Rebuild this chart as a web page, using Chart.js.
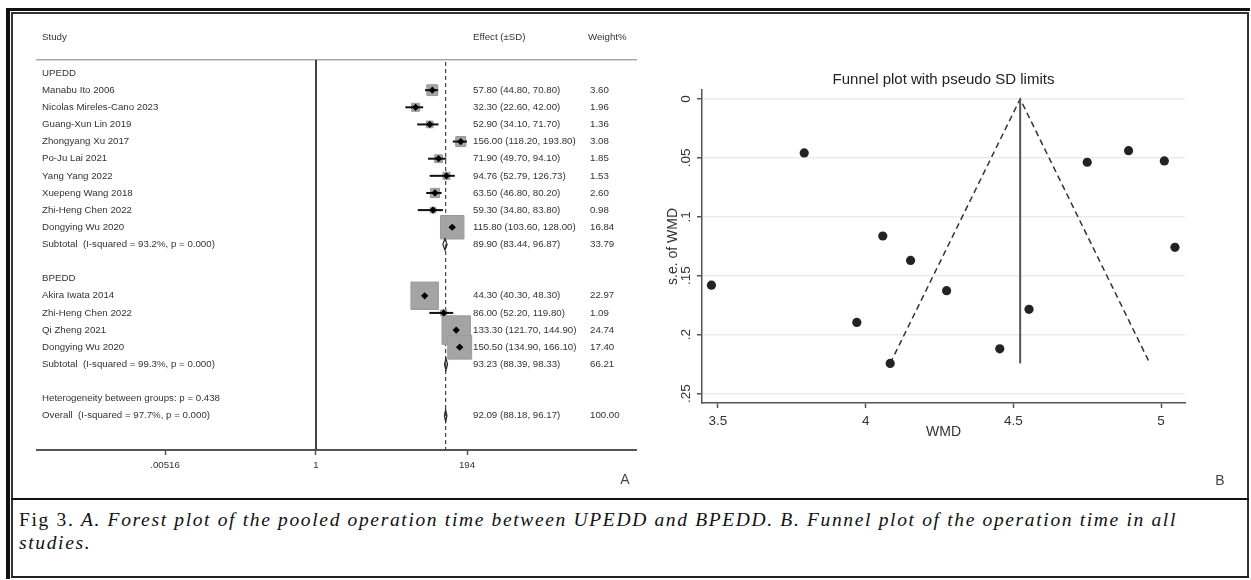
<!DOCTYPE html>
<html>
<head>
<meta charset="utf-8">
<script src="https://cdn.jsdelivr.net/npm/chart.js@4.4.1/dist/chart.umd.min.js"></script>
<style>
html,body{margin:0;padding:0;background:#fff;}
body{width:1251px;height:580px;position:relative;overflow:hidden;font-family:"Liberation Sans",Arial,sans-serif;}
.ln{position:absolute;background:#111;}
.wrap{position:absolute;}
.plab{position:absolute;font:14px "Liberation Sans",Arial,sans-serif;color:#444;transform:translate(-50%,-50%);}
#cap{position:absolute;left:19px;top:508px;font-family:"Liberation Serif","Times New Roman",serif;font-size:19.5px;line-height:23px;color:#111;}
#cap .cl{white-space:nowrap;}
</style>
</head>
<body>
<!-- frame lines -->
<div class="ln" style="left:6px;top:8px;width:1244px;height:3px;background:#111"></div>
<div class="ln" style="left:6px;top:8px;width:4px;height:571px;background:#111"></div>
<div class="ln" style="left:11px;top:12px;width:1238px;height:1.5px;background:#333"></div>
<div class="ln" style="left:11px;top:12px;width:1.5px;height:566px;background:#333"></div>
<div class="ln" style="left:1247px;top:12px;width:2px;height:566px;background:#333"></div>
<div class="ln" style="left:11px;top:576px;width:1238px;height:2px;background:#222"></div>
<div class="ln" style="left:11px;top:498px;width:1238px;height:2px;background:#111"></div>

<div class="wrap" style="left:14px;top:14px;width:626px;height:484px;"><canvas id="forest" width="626" height="484"></canvas></div>
<div class="wrap" style="left:645px;top:14px;width:600px;height:484px;"><canvas id="funnel" width="600" height="484"></canvas></div>

<div class="plab" style="left:625px;top:479px;">A</div>
<div class="plab" style="left:1220px;top:480px;">B</div>

<div id="cap">
  <div class="cl" id="cl1">Fig 3. <i>A. Forest plot of the pooled operation time between UPEDD and BPEDD. B. Funnel plot of the operation time in all</i></div>
  <div class="cl" id="cl2"><i>studies.</i></div>
</div>

<script>
// ---------------- Forest plot data ----------------
const rowLabels = [
  "UPEDD",
  "Manabu Ito 2006",
  "Nicolas Mireles-Cano 2023",
  "Guang-Xun Lin 2019",
  "Zhongyang Xu 2017",
  "Po-Ju Lai 2021",
  "Yang Yang 2022",
  "Xuepeng Wang 2018",
  "Zhi-Heng Chen 2022",
  "Dongying Wu 2020",
  "Subtotal  (I-squared = 93.2%, p = 0.000)",
  "",
  "BPEDD",
  "Akira Iwata 2014",
  "Zhi-Heng Chen 2022",
  "Qi Zheng 2021",
  "Dongying Wu 2020",
  "Subtotal  (I-squared = 99.3%, p = 0.000)",
  "",
  "Heterogeneity between groups: p = 0.438",
  "Overall  (I-squared = 97.7%, p = 0.000)"
];
const rowType = ["group","study","study","study","study","study","study","study","study","study","pooled","blank",
                 "group","study","study","study","study","pooled","blank","note","pooled"];
const rowEffect = [null,57.80,32.30,52.90,156.00,71.90,94.76,63.50,59.30,115.80,89.90,null,
                   null,44.30,86.00,133.30,150.50,93.23,null,null,92.09];
const rowLow    = [null,44.80,22.60,34.10,118.20,49.70,52.79,46.80,34.80,103.60,83.44,null,
                   null,40.30,52.20,121.70,134.90,88.39,null,null,88.18];
const rowHigh   = [null,70.80,42.00,71.70,193.80,94.10,126.73,80.20,83.80,128.00,96.87,null,
                   null,48.30,119.80,144.90,166.10,98.33,null,null,96.17];
const rowWeight = [null,3.60,1.96,1.36,3.08,1.85,1.53,2.60,0.98,16.84,33.79,null,
                   null,22.97,1.09,24.74,17.40,66.21,null,null,100.00];
const headerLabels = ["Study","Effect (\u00B1SD)","Weight%"];
const forestTicks = [0.00516, 1, 194];
const forestTickLabels = [".00516", "1", "194"];
const overallRow = 20;

// ---------------- Funnel plot data ----------------
const funnelWMD = [4.058, 3.478, 3.970, 5.047, 4.274, 4.553, 4.152, 4.083, 4.750, 3.792, 4.454, 4.890, 5.011];
const funnelSE  = [0.1163, 0.1580, 0.1896, 0.1259, 0.1627, 0.1785, 0.1370, 0.2244, 0.0537, 0.0458, 0.2120, 0.0439, 0.0526];
const funnelCenter = 4.523;
const funnelSEMax = 0.2244;
const funnelLower = 4.083;
const funnelUpper = 4.962;
const funnelXTicks = [3.5, 4, 4.5, 5];
const funnelXTickLabels = ["3.5", "4", "4.5", "5"];
const funnelYTicks = [0, 0.05, 0.1, 0.15, 0.2, 0.25];
const funnelYTickLabels = ["0", ".05", ".1", ".15", ".2", ".25"];

// ---------------- Common ----------------
const FAM = "'Liberation Sans', Arial, Helvetica, sans-serif";
Chart.defaults.font.family = FAM;
Chart.defaults.animation = false;
Chart.defaults.events = [];
const noPad = s => { s.paddingLeft = 0; s.paddingRight = 0; s.paddingTop = 0; s.paddingBottom = 0; };

// ---------------- Build forest datasets ----------------
const fd = [];
const studyIdx = rowType.map((t,i)=>t==="study"?i:-1).filter(i=>i>=0);
const pooledIdx = rowType.map((t,i)=>t==="pooled"?i:-1).filter(i=>i>=0);

// markers (top)
fd.push({
  data: studyIdx.map(i=>({x: rowEffect[i], y: i})),
  pointStyle: 'rectRot', pointRadius: 3.6, backgroundColor: '#000', borderColor: '#000', borderWidth: 0,
  showLine: false, order: 0
});
// CI lines
studyIdx.forEach(i=>{
  fd.push({
    data: [{x: rowLow[i], y: i}, {x: rowHigh[i], y: i}],
    showLine: true, borderColor: '#111', borderWidth: 2, pointRadius: 0, order: 1
  });
});
// pooled diamonds
const dh = 0.33;
pooledIdx.forEach(i=>{
  fd.push({
    data: [{x: rowLow[i], y: i}, {x: rowEffect[i], y: i - dh}, {x: rowHigh[i], y: i},
           {x: rowEffect[i], y: i + dh}, {x: rowLow[i], y: i}],
    showLine: true, borderColor: '#2a2a2a', borderWidth: 1.3, pointRadius: 0, fill: false,
    backgroundColor: 'rgba(0,0,0,0)', order: 1
  });
});
// weight squares
fd.push({
  data: studyIdx.map(i=>({x: rowEffect[i], y: i})),
  pointStyle: 'rect', pointRadius: studyIdx.map(i=>Math.sqrt(rowWeight[i]) * 4.05),
  backgroundColor: '#a4a4a4', borderColor: '#9a9a9a', borderWidth: 1, showLine: false, order: 2
});
// null line at 1
fd.push({
  data: [{x: 1, y: -0.76}, {x: 1, y: 22}],
  showLine: true, borderColor: '#444', borderWidth: 2, pointRadius: 0, order: 3
});
// overall dashed line
fd.push({
  data: [{x: rowEffect[overallRow], y: -0.64}, {x: rowEffect[overallRow], y: 22}],
  showLine: true, borderColor: '#444', borderWidth: 1.2, borderDash: [4, 3], pointRadius: 0, order: 3
});

const fmt = v => v.toFixed(2);
const forestText = {
  id: 'forestText',
  afterDraw(chart) {
    const ctx = chart.ctx, ys = chart.scales.y;
    const colX = [28, 459, 576];
    ctx.save();
    ctx.font = "9.7px " + FAM;
    ctx.fillStyle = '#333';
    ctx.textBaseline = 'middle';
    ctx.textAlign = 'left';
    const hy = ys.getPixelForValue(-2.1);
    ctx.fillText(headerLabels[0], colX[0], hy);
    ctx.fillText(headerLabels[1], colX[1], hy);
    ctx.fillText(headerLabels[2], colX[2] - 2, hy);
    rowLabels.forEach((lab, i) => {
      const y = ys.getPixelForValue(i);
      if (lab) ctx.fillText(lab, colX[0], y);
      if (rowEffect[i] != null) {
        ctx.fillText(fmt(rowEffect[i]) + " (" + fmt(rowLow[i]) + ", " + fmt(rowHigh[i]) + ")", colX[1], y);
        ctx.fillText(fmt(rowWeight[i]), colX[2], y);
      }
    });
    ctx.restore();
  }
};

new Chart(document.getElementById('forest'), {
  type: 'scatter',
  data: { datasets: fd },
  options: {
    responsive: false,
    devicePixelRatio: 1,
    layout: { autoPadding: false, padding: { left: 23, right: 4, top: 46, bottom: 0 } },
    plugins: { legend: { display: false }, tooltip: { enabled: false } },
    scales: {
      x: {
        type: 'logarithmic', position: 'bottom', min: 5.93e-5, max: 7.05e4,
        afterBuildTicks: s => { s.ticks = forestTicks.map(v => ({ value: v })); },
        ticks: { callback: (v, i) => forestTickLabels[i], font: { size: 9.7 }, color: '#333',
                 padding: 5, maxRotation: 0, minRotation: 0, autoSkip: false },
        grid: { drawOnChartArea: false, drawTicks: true, tickLength: 5, tickColor: '#555', tickWidth: 1.5 },
        border: { display: true, color: '#555', width: 2 },
        afterFit: s => { s.height = 48; noPad(s); }
      },
      x2: {
        type: 'linear', position: 'top', min: 0, max: 1,
        ticks: { display: false },
        grid: { display: false, drawTicks: false },
        border: { display: true, color: '#a8a8a8', width: 1.5 },
        afterFit: s => { s.height = 0; noPad(s); }
      },
      y: { type: 'linear', reverse: true, min: -0.76, max: 22, display: false }
    }
  },
  plugins: [forestText]
});

// ---------------- Funnel chart ----------------
new Chart(document.getElementById('funnel'), {
  type: 'scatter',
  data: {
    datasets: [
      {
        data: funnelWMD.map((x, i) => ({ x: x, y: funnelSE[i] })),
        pointStyle: 'circle', pointRadius: 4.6, backgroundColor: '#232323', borderWidth: 0, order: 0
      },
      {
        data: [{ x: funnelCenter, y: 0 }, { x: funnelCenter, y: funnelSEMax }],
        showLine: true, borderColor: '#555', borderWidth: 2, pointRadius: 0, order: 1
      },
      {
        data: [{ x: funnelLower, y: funnelSEMax }, { x: funnelCenter, y: 0 }, { x: funnelUpper, y: funnelSEMax }],
        showLine: true, borderColor: '#333', borderWidth: 1.5, borderDash: [6, 4], pointRadius: 0, order: 1
      }
    ]
  },
  options: {
    responsive: false,
    devicePixelRatio: 1,
    layout: { autoPadding: false, padding: { left: 0, right: 60, top: 0, bottom: 0 } },
    plugins: {
      legend: { display: false }, tooltip: { enabled: false },
      title: { display: true, text: 'Funnel plot with pseudo SD limits', fullSize: false,
               font: { size: 15, weight: 'normal' }, color: '#222', padding: { top: 57, bottom: 1 } }
    },
    scales: {
      x: {
        type: 'linear', min: 3.446, max: 5.081,
        afterBuildTicks: s => { s.ticks = funnelXTicks.map(v => ({ value: v })); },
        ticks: { callback: (v, i) => funnelXTickLabels[i], font: { size: 13.5 }, color: '#333',
                 padding: 5, maxRotation: 0, minRotation: 0, autoSkip: false },
        grid: { drawOnChartArea: false, tickLength: 5, tickColor: '#555', tickWidth: 1.5 },
        border: { color: '#555', width: 1.5 },
        title: { display: true, text: 'WMD', font: { size: 14 }, color: '#333', padding: { top: 0, bottom: 57 } },
        afterFit: s => { s.height = 95; noPad(s); }
      },
      y: {
        type: 'linear', reverse: true, min: -0.0076, max: 0.258,
        afterBuildTicks: s => { s.ticks = funnelYTicks.map(v => ({ value: v })); },
        ticks: { callback: (v, i) => funnelYTickLabels[i], font: { size: 13.5 }, color: '#333',
                 minRotation: 90, maxRotation: 90, crossAlign: 'center', padding: 1, autoSkip: false },
        grid: { color: '#ebebeb', lineWidth: 1.5, tickLength: 5, tickColor: '#555', tickWidth: 1.5 },
        border: { color: '#555', width: 1.5 },
        title: { display: true, text: 's.e. of WMD', font: { size: 14 }, color: '#333', padding: { top: 20, bottom: 0 } },
        afterFit: s => { s.width = 57; noPad(s); }
      }
    }
  }
});

// ---------------- caption fit ----------------
(function () {
  const l1 = document.getElementById('cl1'), l2 = document.getElementById('cl2');
  const target = 1158;
  const w = l1.getBoundingClientRect().width;
  const n = l1.textContent.length;
  const ls = Math.max(0, (target - w) / n);
  l1.style.letterSpacing = ls + 'px';
  l2.style.letterSpacing = ls + 'px';
})();
</script>
</body>
</html>
